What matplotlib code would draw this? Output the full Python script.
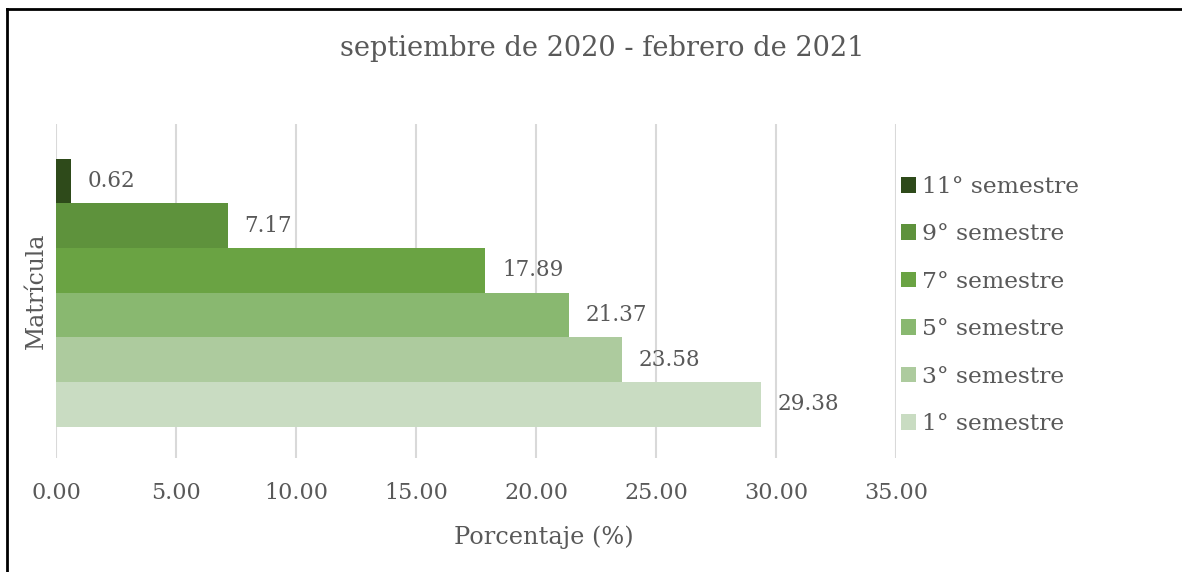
import matplotlib
matplotlib.use("Agg")
import matplotlib.pyplot as plt
from matplotlib.lines import Line2D

semestres = ["1° semestre", "3° semestre", "5° semestre", "7° semestre", "9° semestre", "11° semestre"]
valores = [29.38, 23.58, 21.37, 17.89, 7.17, 0.62]
colores = ["#C9DCC2", "#ADCB9E", "#89B870", "#6AA343", "#5E923C", "#2E4A1A"]
xticks = [0, 5, 10, 15, 20, 25, 30, 35]

plt.rcParams['font.family'] = ['DejaVu Serif']
gris = "#595959"

W, H = 1182, 572
fig = plt.figure(figsize=(W / 100, H / 100), dpi=100)
ax = fig.add_axes([56 / W, 1 - 458 / H, (896 - 56) / W, (458 - 124) / H])

for i, (s, v, c) in enumerate(zip(semestres, valores, colores)):
    ax.barh(i, v, height=1.0, color=c, label=s, zorder=2)
    ax.annotate(f"{v:.2f}", (v, i), xytext=(12, 0), textcoords="offset points",
                va="center", ha="left", fontsize=15.5, color=gris, zorder=3)

ax.set_xlim(0, 35)
ax.set_ylim(-1.2, 6.28)
ax.set_xticks(xticks)
ax.set_xticklabels([f"{t:.2f}" for t in xticks], fontsize=16, color=gris)
ax.set_yticks([])
ax.tick_params(axis="x", length=0, pad=17)
ax.grid(axis="x", color="#D9D9D9", linewidth=1.5, zorder=0)
for sp in ax.spines.values():
    sp.set_visible(False)

ax.set_xlabel("Porcentaje (%)", fontsize=17.3, color=gris, va="center")
ax.xaxis.set_label_coords((544 - 56) / 840, (458 - 537) / 334)
ax.set_ylabel("Matrícula", fontsize=17, color=gris, labelpad=6)
fig.text(602 / W, 1 - 48 / H, "septiembre de 2020 - febrero de 2021",
         ha="center", va="center", fontsize=19.6, color=gris)

handles, labels = ax.get_legend_handles_labels()
leg = fig.legend(handles[::-1], labels[::-1], loc="upper left",
                 bbox_to_anchor=(880 / W, 1 - 155 / H), frameon=False,
                 fontsize=16.8, labelcolor=gris, handlelength=0.65, handleheight=0.65,
                 handletextpad=0.25, labelspacing=1.09)

fig.add_artist(Line2D([7 / W, 7 / W], [0, 1 - 9 / H], color="black", lw=2))
fig.add_artist(Line2D([7 / W, 1], [1 - 9 / H, 1 - 9 / H], color="black", lw=2))

fig.savefig("out.png", dpi=100, facecolor="white")
